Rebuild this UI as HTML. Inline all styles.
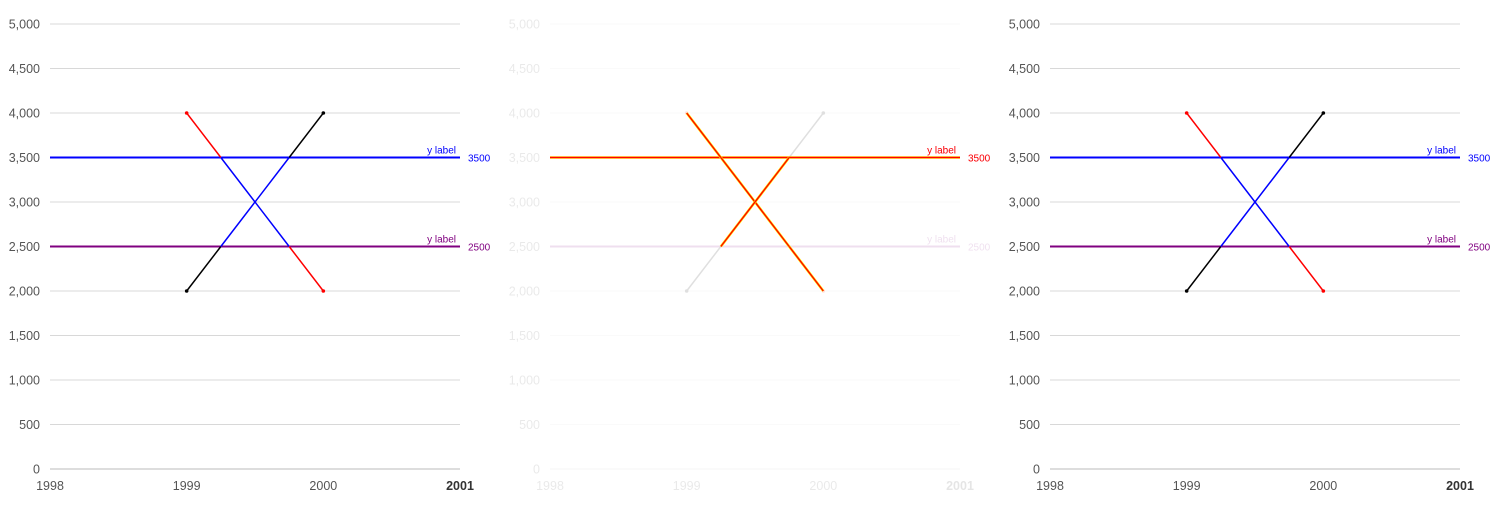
<!DOCTYPE html>
<html><head><meta charset="utf-8"><style>
body{margin:0;background:#fff;font-family:"Liberation Sans","DejaVu Sans",sans-serif}
svg text{font-family:"Liberation Sans","DejaVu Sans",sans-serif}
</style></head><body>
<svg id="c" width="1500" height="500"></svg>
<script>
const years=[1999,2000];
const seriesA=[4000,2000]; // red series
const seriesB=[2000,4000]; // black series
const thresholds=[3500,2500];
const thresholdLabels=["3500","2500"];
const yTicks=[0,500,1000,1500,2000,2500,3000,3500,4000,4500,5000];
const xTicks=[1998,1999,2000,2001];
const NS="http://www.w3.org/2000/svg";
const svg=document.getElementById('c');
function el(t,a,p){const e=document.createElementNS(NS,t);for(const k in a)e.setAttribute(k,a[k]);(p||svg).appendChild(e);return e;}
const X=v=>50+(v-1998)/(2001-1998)*410;
const Y=v=>469-v/5000*445;
const thColors=["#0000ff","#800080"];
function segs(vals){
  const [x0,x1]=years,[y0,y1]=vals;
  const pts=[[x0,y0]];
  const cuts=thresholds.map(t=>[x0+(t-y0)/(y1-y0)*(x1-x0),t]).sort((a,b)=>a[0]-b[0]);
  cuts.forEach(c=>pts.push(c));pts.push([x1,y1]);
  const out=[];
  for(let i=0;i<pts.length-1;i++){const mid=(pts[i][1]+pts[i+1][1])/2;
    const inside=mid<Math.max(...thresholds)&&mid>Math.min(...thresholds);
    out.push({a:pts[i],b:pts[i+1],inside});}
  return out;
}
for(let p=0;p<3;p++){
  const g=el('g',{transform:`translate(${p*500},0)`});
  
  
  const faded=p===1;
  const base=el('g',{opacity:faded?0.12:1},g);
  yTicks.forEach(t=>{
    const l=el('line',{x1:50,x2:460,y1:Y(t),y2:Y(t),stroke:t===0?'#bbb':'#d8d8d8','stroke-width':1},base);
    
    
    const tx=el('text',{x:40,y:Y(t)+4.5,'text-anchor':'end','font-size':12.5,fill:'#555'},base);
    
    
    tx.textContent=t.toLocaleString('en-US');
  });
  xTicks.forEach((t,i)=>{
    const tx=el('text',{x:X(t),y:490,'text-anchor':'middle','font-size':12.5,fill:i===3?'#333':'#555','font-weight':i===3?'bold':'normal'},base);
    
    
    tx.textContent=t;
  });
  thresholds.forEach((t,i)=>{
    const l=el('line',{x1:50,x2:460,y1:Y(t),y2:Y(t),stroke:thColors[i],'stroke-width':2},base);
    
    
    const a=el('text',{x:456,y:Y(t)-4,'text-anchor':'end','font-size':10,fill:thColors[i]},base);
    
    
    a.textContent='y label';
    const b=el('text',{x:468,y:Y(t)+4,'font-size':10,fill:thColors[i]},base);
    
    
    b.textContent=thresholdLabels[i];
  });
  [[seriesA,'#ff0000'],[seriesB,'#000000']].forEach(([vals,col],si)=>{
    segs(vals).forEach(s=>{
      const l=el('line',{x1:X(s.a[0]),y1:Y(s.a[1]),x2:X(s.b[0]),y2:Y(s.b[1]),stroke:s.inside?'#0000ff':col,'stroke-width':1.5},base);
      
      
    });
    years.forEach((yr,i)=>{
      const c=el('circle',{cx:X(yr),cy:Y(vals[i]),r:1.8,fill:col},base);
      
      
    });
  });
  if(faded){
    const hi=el('g',{},g);
    const hl=(x1,y1,x2,y2)=>{
      el('line',{x1,y1,x2,y2,stroke:'#ffee00','stroke-width':2.6},hi);
      const l=el('line',{x1,y1,x2,y2,stroke:'#ff0000','stroke-width':1.4},hi);
      
      
    };
    hl(50,Y(thresholds[0]),460,Y(thresholds[0]));
    segs(seriesA).forEach(s=>hl(X(s.a[0]),Y(s.a[1]),X(s.b[0]),Y(s.b[1])));
    segs(seriesB).filter(s=>s.inside).forEach(s=>hl(X(s.a[0]),Y(s.a[1]),X(s.b[0]),Y(s.b[1])));
    const a=el('text',{x:456,y:Y(thresholds[0])-4,'text-anchor':'end','font-size':10,fill:'#ff0000'},hi);
    
    
    a.textContent='y label';
    const b=el('text',{x:468,y:Y(thresholds[0])+4,'font-size':10,fill:'#ff0000'},hi);
    
    
    b.textContent=thresholdLabels[0];
  }
}
</script>
</body></html>
